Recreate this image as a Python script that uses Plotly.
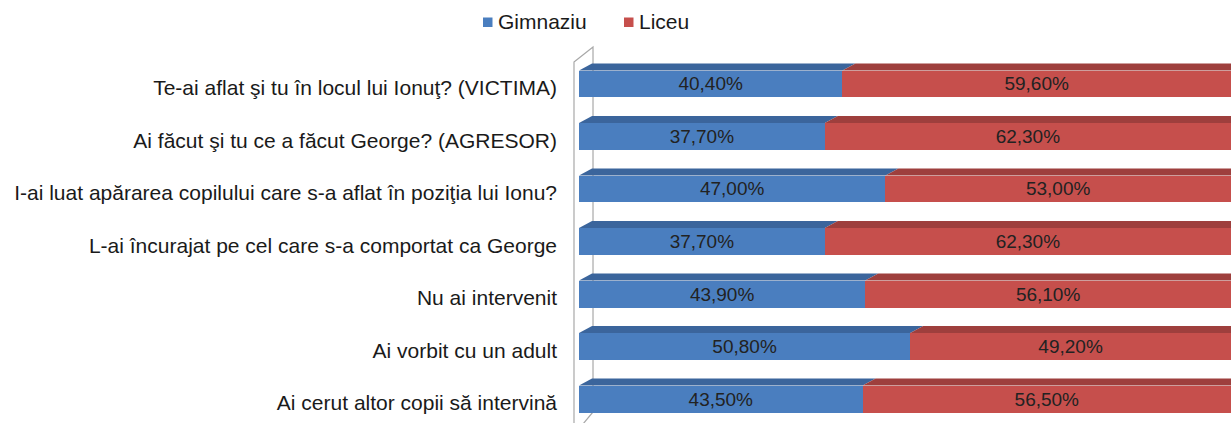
import plotly.graph_objects as go

# Survey answers (one row per question), share of respondents by school level
questions = [
    "Te-ai aflat şi tu în locul lui Ionuţ? (VICTIMA)",
    "Ai făcut şi tu ce a făcut George? (AGRESOR)",
    "I-ai luat apărarea copilului care s-a aflat în poziţia lui Ionu?",
    "L-ai încurajat pe cel care s-a comportat ca George",
    "Nu ai intervenit",
    "Ai vorbit cu un adult",
    "Ai cerut altor copii să intervină",
]
series_names = ["Gimnaziu", "Liceu"]
gimnaziu = [40.4, 37.7, 47.0, 37.7, 43.9, 50.8, 43.5]
liceu = [59.6, 62.3, 53.0, 62.3, 56.1, 49.2, 56.5]

# Canvas and plot-area geometry
W, H = 1231, 423
ML, MR, MT, MB = 570, 0, 40, 0
PW, PH = W - ML - MR, H - MT - MB
X_MIN, X_MAX = -1.38, 100.0
Y_TOP, Y_BOT = -0.838, 6.457
PPU_X = PW / (X_MAX - X_MIN)
PPU_Y = PH / (Y_BOT - Y_TOP)

BAR_W = 0.514            # bar thickness in category units
DEPTH_X = 13 / PPU_X     # 3D depth of the bar tops
DEPTH_Y = 7 / PPU_Y

BLUE, BLUE_TOP = "#4a7ebf", "#3b659c"
RED, RED_TOP = "#c64f4c", "#9e3f3d"
FONT = "Liberation Sans"
TEXT = "#1a1a1a"

ypos = list(range(len(questions)))

fig = go.Figure()

for name, vals, col in ((series_names[0], gimnaziu, BLUE), (series_names[1], liceu, RED)):
    fig.add_trace(go.Bar(
        name=name, y=ypos, x=vals, orientation="h", width=BAR_W,
        marker=dict(color=col, line=dict(width=0)),
        texttemplate="%{x:.2f}%", textposition="inside", insidetextanchor="middle",
        textangle=0, textfont=dict(family=FONT, size=19, color="#222222"),
        showlegend=False,
    ))


def top_face(x0, x1, yc):
    """Parallelogram on top of a bar segment, receding to the upper right."""
    yf = yc - BAR_W / 2
    yb = yf - DEPTH_Y
    xs = [x0, x1, x1 + DEPTH_X, x0 + DEPTH_X, x0]
    ys = [yf, yf, yb, yb, yf]
    return xs, ys


for i, (g, l) in enumerate(zip(gimnaziu, liceu)):
    for (a, b, col) in ((0, g, BLUE_TOP), (g, g + l, RED_TOP)):
        xs, ys = top_face(a, b, i)
        fig.add_trace(go.Scatter(
            x=xs, y=ys, mode="lines", fill="toself", fillcolor=col,
            line=dict(width=0, color=col), showlegend=False, hoverinfo="skip",
        ))


def px(xp, yp):
    """Pixel position on the canvas -> paper coordinates."""
    return (xp - ML) / PW, 1 - (yp - MT) / PH


# Left side wall of the 3D plot box
wall = [(574, 62), (593, 47), (593, 412), (578, 430), (574, 430)]
pts = [px(*p) for p in wall]
path = "M " + " L ".join(f"{x:.5f},{y:.5f}" for x, y in pts) + " Z"
fig.add_shape(type="path", path=path, xref="paper", yref="paper",
              fillcolor="white", line=dict(color="#a8a8a8", width=1.2),
              layer="below")

# Legend: coloured square + series name, laid out across the top
legend_items = [(series_names[0], BLUE, 483), (series_names[1], RED, 624)]
for name, col, x_left in legend_items:
    x0, y0 = px(x_left, 27)
    x1, y1 = px(x_left + 9.5, 17.5)
    fig.add_shape(type="rect", xref="paper", yref="paper",
                  x0=x0, y0=y0, x1=x1, y1=y1,
                  fillcolor=col, line=dict(width=0))
    tx, ty = px(x_left + 13, 22)
    fig.add_annotation(text=name, xref="paper", yref="paper", x=tx, y=ty,
                       xanchor="left", yanchor="middle", showarrow=False,
                       font=dict(family=FONT, size=21, color=TEXT))

fig.update_layout(
    width=W, height=H,
    margin=dict(l=ML, r=MR, t=MT, b=MB, pad=0),
    barmode="stack",
    separators=",.",
    paper_bgcolor="white", plot_bgcolor="white",
    font=dict(family=FONT, size=21, color=TEXT),
    showlegend=False,
    xaxis=dict(range=[X_MIN, X_MAX], visible=False, fixedrange=True),
    yaxis=dict(
        range=[Y_BOT, Y_TOP],
        tickvals=[v + 0.07 for v in ypos], ticktext=questions,
        showgrid=False, zeroline=False, showline=False, ticks="",
        ticklabelstandoff=12,
        tickfont=dict(family=FONT, size=21, color=TEXT),
        fixedrange=True,
    ),
)

fig.write_html("out.html")
